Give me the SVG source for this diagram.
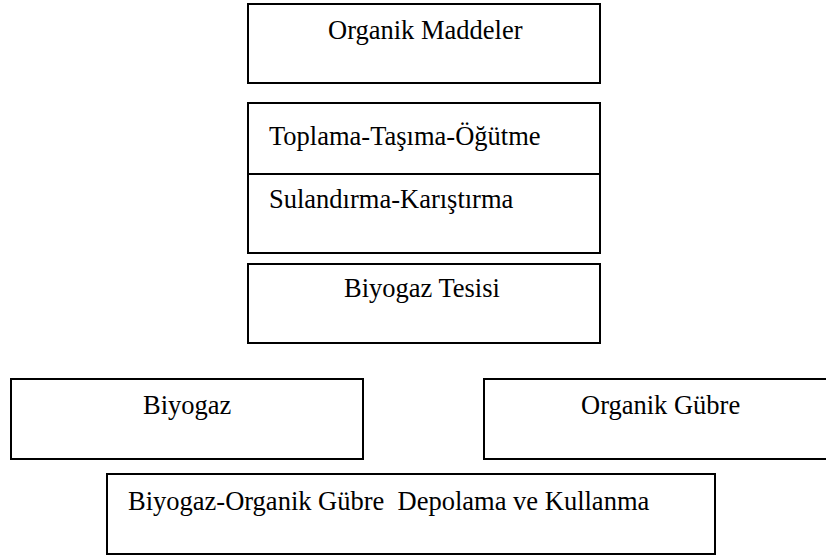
<svg xmlns="http://www.w3.org/2000/svg" width="826" height="556" viewBox="0 0 826 556">
<style>
.box{fill:#fff;stroke:#000;stroke-width:2}
.t{font-family:"Liberation Serif","Times New Roman",serif;font-size:26.5px;fill:#000;white-space:pre}
</style>
<rect width="826" height="556" fill="#fff"/>
<g id="organik-maddeler">
<rect class="box" x="248" y="4" width="352" height="79"/>
<text class="t" x="328" y="39">Organik Maddeler</text>
</g>
<g id="toplama">
<rect class="box" x="248" y="103" width="352" height="71"/>
<text class="t" x="269" y="145">Toplama-Taşıma-Öğütme</text>
</g>
<g id="sulandirma">
<rect class="box" x="248" y="174" width="352" height="79"/>
<text class="t" x="269" y="208">Sulandırma-Karıştırma</text>
</g>
<g id="biyogaz-tesisi">
<rect class="box" x="248" y="264" width="352" height="79"/>
<text class="t" x="344" y="297">Biyogaz Tesisi</text>
</g>
<g id="biyogaz">
<rect class="box" x="11" y="379" width="352" height="80"/>
<text class="t" x="143" y="414">Biyogaz</text>
</g>
<g id="organik-gubre">
<rect class="box" x="484" y="379" width="352" height="80"/>
<text class="t" x="581" y="414">Organik Gübre</text>
</g>
<g id="depolama">
<rect class="box" x="107" y="474" width="608" height="80"/>
<text class="t" x="128" y="510">Biyogaz-Organik Gübre  Depolama ve Kullanma</text>
</g>
<g id="connectors"></g>
</svg>
